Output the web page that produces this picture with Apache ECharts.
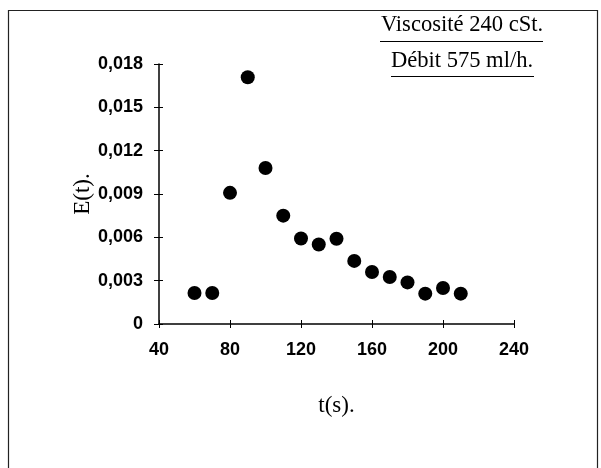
<!DOCTYPE html>
<html>
<head>
<meta charset="utf-8">
<script src="https://cdn.jsdelivr.net/npm/echarts@6/dist/echarts.min.js"></script>
<style>
html,body{margin:0;padding:0;background:#fff;}
#chart{width:601px;height:468px;}
</style>
</head>
<body>
<div id="chart"></div>
<script>
var times = [60, 70, 80, 90, 100, 110, 120, 130, 140, 150, 160, 170, 180, 190, 200, 210];
var eValues = [0.00215, 0.00215, 0.00908, 0.01708, 0.0108, 0.0075, 0.00592, 0.0055, 0.0059, 0.00437, 0.0036, 0.00325, 0.00288, 0.0021, 0.00249, 0.0021];
var titleLines = ['Viscosité 240 cSt.', 'Débit 575 ml/h.'];
var xName = 't(s).';
var yName = 'E(t).';

var chart = echarts.init(document.getElementById('chart'), null, {renderer: 'canvas'});
var pts = times.map(function (t, i) { return [t, eValues[i]]; });
var axisLine = {show: true, onZero: false, lineStyle: {color: '#000', width: 1.5}};
var labelStyle = {color: '#000', fontFamily: 'Liberation Sans, Arial, sans-serif', fontSize: 18, fontWeight: 'bold'};
var serif = 'Liberation Serif, Times New Roman, serif';
function fmt(v) { return v === 0 ? '0' : v.toFixed(3).replace('.', ','); }

chart.setOption({
  backgroundColor: '#fff',
  animation: false,
  grid: {left: 159, right: 87, top: 64, bottom: 144, containLabel: false},
  xAxis: [{
    type: 'value', min: 40, max: 240, interval: 40,
    axisLine: axisLine,
    axisTick: {show: true, inside: false, length: 4, lineStyle: {color: '#000', width: 1}},
    axisLabel: Object.assign({margin: 17}, labelStyle),
    splitLine: {show: false},
    name: xName, nameLocation: 'middle', nameGap: 70, nameMoveOverlap: false,
    nameTextStyle: {fontFamily: serif, fontSize: 23, color: '#000'}
  }, {
    type: 'value', min: 40, max: 240, interval: 40, position: 'bottom',
    axisLine: {show: false},
    axisTick: {show: true, inside: true, length: 4, lineStyle: {color: '#000', width: 1}},
    axisLabel: {show: false}, splitLine: {show: false}
  }],
  yAxis: [{
    type: 'value', min: 0, max: 0.018, interval: 0.003,
    axisLine: axisLine,
    axisTick: {show: true, inside: false, length: 5, lineStyle: {color: '#000', width: 1}},
    axisLabel: Object.assign({margin: 16, formatter: fmt}, labelStyle),
    splitLine: {show: false},
    name: yName, nameLocation: 'middle', nameGap: 65, nameRotate: 90, nameMoveOverlap: false,
    nameTextStyle: {fontFamily: serif, fontSize: 23, color: '#000'}
  }, {
    type: 'value', min: 0, max: 0.018, interval: 0.003, position: 'left',
    axisLine: {show: false},
    axisTick: {show: true, inside: true, length: 4, lineStyle: {color: '#000', width: 1}},
    axisLabel: {show: false}, splitLine: {show: false}
  }],
  series: [{
    type: 'scatter',
    data: pts,
    symbol: 'circle',
    symbolSize: 14,
    itemStyle: {color: '#000', opacity: 1}
  }],
  graphic: [
    {type: 'rect', shape: {x: 8.5, y: 10.5, width: 589, height: 470}, style: {fill: 'none', stroke: '#222', lineWidth: 1.2}, silent: true},
    {type: 'text', x: 462, y: 37, scaleX: 0.94, style: {text: titleLines[0], fontFamily: serif, fontSize: 24, fill: '#000', textAlign: 'center', textVerticalAlign: 'bottom'}},
    {type: 'text', x: 462, y: 73, scaleX: 0.94, style: {text: titleLines[1], fontFamily: serif, fontSize: 24, fill: '#000', textAlign: 'center', textVerticalAlign: 'bottom'}},
    {type: 'line', shape: {x1: 380, y1: 41.5, x2: 543, y2: 41.5}, style: {stroke: '#000', lineWidth: 1.2}},
    {type: 'line', shape: {x1: 391, y1: 76.5, x2: 534, y2: 76.5}, style: {stroke: '#000', lineWidth: 1.2}}
  ]
});
</script>
</body>
</html>
